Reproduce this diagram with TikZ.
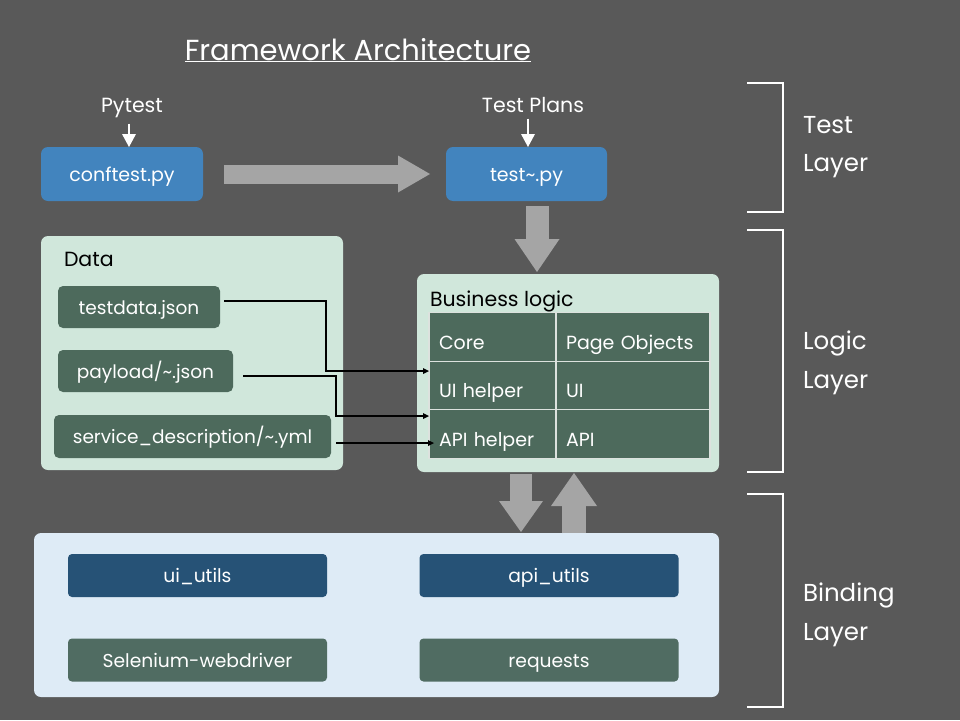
\documentclass[tikz,border=0pt]{standalone}
\usepackage{fontspec}
\setmainfont{Poppins}
\usetikzlibrary{arrows.meta}

\definecolor{bggray}{RGB}{89,89,89}
\definecolor{cfgblue}{RGB}{66,132,190}
\definecolor{datagreen}{RGB}{77,106,92}
\definecolor{libgreen}{RGB}{80,108,98}
\definecolor{utilblue}{RGB}{38,82,118}
\definecolor{mint}{RGB}{208,231,219}
\definecolor{paleblue}{RGB}{222,235,246}
\definecolor{arrowgray}{RGB}{165,165,165}
\definecolor{gridline}{RGB}{220,226,222}

\newcommand{\fsz}[1]{\fontsize{#1}{#1}\selectfont}

\begin{document}
\begin{tikzpicture}[x=1pt,y=-1pt,
		every node/.style={outer sep=0pt},
		toplabel/.style={text=white, font=\fsz{20.5}, anchor=base},
		bluebox/.style={rounded corners=7pt, fill=cfgblue, text=white, font=\fsz{19}, inner sep=0pt,
			text height=14pt, text depth=0pt},
		greenbox/.style={rounded corners=5pt, fill=datagreen, text=white, font=\fsz{18.5}, inner sep=0pt,
			text height=14pt, text depth=0pt},
		panel/.style={rounded corners=7pt, fill=mint, inner sep=0pt},
		paneltitle/.style={text=black, font=\fsz{20.5}, inner sep=0pt, anchor=base west},
		cell/.style={draw=gridline, line width=1.3pt, fill=datagreen, text=white, font=\fsz{19},
			minimum height=48.5, inner xsep=10pt, align=left, text height=30pt, text depth=6pt},
		utilbox/.style={rounded corners=4pt, fill=utilblue, text=white, font=\fsz{18.7},
			minimum width=259, minimum height=43, inner sep=0pt, text height=14pt, text depth=0pt},
		libbox/.style={utilbox, fill=libgreen},
		whitetip/.style={draw=white, line width=2.5pt, -{Triangle[width=14pt,length=13pt,line width=0pt]}},
		bigarrow/.style n args={3}{draw=arrowgray, line width=#1, -{Triangle[width=#2,length=#3,line width=0pt]}},
		link/.style={draw=black, line width=1.6pt, -{Triangle[width=6pt,length=6pt,line width=0pt]}},
		bracket/.style={draw=white, line width=2.5pt},
		layerlbl/.style={text=white, font=\fontsize{24.5}{38.5}\selectfont, align=left, anchor=west, inner sep=0pt}]
	
	\useasboundingbox[fill=bggray] (0,0) rectangle (960,720);
	
	\node[text=white, font=\fsz{29}, anchor=base] (title) at (358,60) {\underline{Framework Architecture}};
	
	% TEST LAYER: runner and test cases
	\node[toplabel] (pytest) at (132,112) {Pytest};
	\node[toplabel] (plans) at (533,112) {Test Plans};
	\node[bluebox, minimum width=162, minimum height=54] (conftest) at (122,174) {conftest.py};
	\node[bluebox, minimum width=161, minimum height=54] (testpy) at (526.5,174) {test\textasciitilde.py};
	\draw[whitetip, shorten <=3pt] ([xshift=7pt]conftest.north |- pytest.south) -- ([xshift=7pt]conftest.north);
	\draw[whitetip, shorten <=3pt] ([xshift=1.5pt]testpy.north |- plans.south) -- ([xshift=1.5pt]testpy.north);
	\draw[bigarrow={19pt}{37pt}{32pt}, shorten <=21pt, shorten >=16pt] (conftest.east) -- (testpy.west);
	
	% LOGIC LAYER: data files on the left, business logic on the right
	\node[panel, minimum width=302, minimum height=234] (datapanel) at (192,353) {};
	\node[paneltitle] (datalbl) at (64,266) {Data};
	\node[greenbox, minimum width=162, minimum height=42] (tdjson) at (139,307) {testdata.json};
	\node[greenbox, minimum width=175, minimum height=42] (pljson) at (145.5,371) {payload/\textasciitilde.json};
	\node[greenbox, minimum width=277, minimum height=43] (svcyml) at (192.5,436.5) {service\_description/\textasciitilde.yml};
	
	\node[panel, minimum width=302, minimum height=198] (blogic) at (568,373) {};
	\node[paneltitle] (bltitle) at (430,306) {Business logic};
	\node[cell, text width=107] (core) at (492.5,337) {Core};
	\node[cell, text width=107] (uihelp) at (492.5,385.5) {UI helper};
	\node[cell, text width=107] (apihelp) at (492.5,434) {API helper};
	\node[cell, text width=134] (pageobj) at (633,337) {Page Objects};
	\node[cell, text width=134] (uiobj) at (633,385.5) {UI};
	\node[cell, text width=134] (apiobj) at (633,434) {API};
	
	\draw[link] ([xshift=4pt,yshift=6pt]tdjson.east) -- ([xshift=106pt,yshift=6pt]tdjson.east) |- ([yshift=14.5pt]uihelp.west);
	\draw[link] ([xshift=10pt,yshift=-5pt]pljson.east) -- ([xshift=103pt,yshift=-5pt]pljson.east) |- ([yshift=18pt]apihelp.west);
	\draw[link] ([xshift=5pt,yshift=-6.5pt]svcyml.east) -- ([xshift=5pt,yshift=-6.5pt]svcyml.east -| apihelp.west);
	
	\draw[bigarrow={23pt}{45pt}{33pt}, shorten <=5pt, shorten >=2pt] ([xshift=10.5pt]testpy.south) -- ([xshift=10.5pt]testpy.south |- blogic.north);
	
	% BINDING LAYER: utils on top of the libraries
	\node[panel, fill=paleblue, minimum width=685, minimum height=164] (binding) at (376.5,615) {};
	\node[utilbox] (uiutils) at (197.5,575.5) {ui\_utils};
	\node[utilbox] (apiutils) at (549,575.5) {api\_utils};
	\node[libbox] (selenium) at (197.5,660) {Selenium-webdriver};
	\node[libbox] (requests) at (549,660) {requests};
	
	\draw[bigarrow={22pt}{44pt}{31pt}, shorten <=2pt, shorten >=1pt] ([xshift=-47pt]blogic.south) -- ([xshift=-47pt]blogic.south |- binding.north);
	\draw[bigarrow={24pt}{46pt}{33pt}, shorten >=1pt] ([xshift=6pt]blogic.south |- binding.north) -- ([xshift=6pt]blogic.south);
	
	% layer brackets
	\draw[bracket] (747,83) -- (783,83) -- (783,212) -- (747,212);
	\draw[bracket] (747,230) -- (783,230) -- (783,472) -- (747,472);
	\draw[bracket] (747,494) -- (783,494) -- (783,707) -- (747,707);
	\node[layerlbl] (testlayer) at (803,147) {Test\\Layer};
	\node[layerlbl] (logiclayer) at (803,363) {Logic\\Layer};
	\node[layerlbl] (bindlayer) at (803,615) {Binding\\Layer};
\end{tikzpicture}
\end{document}
